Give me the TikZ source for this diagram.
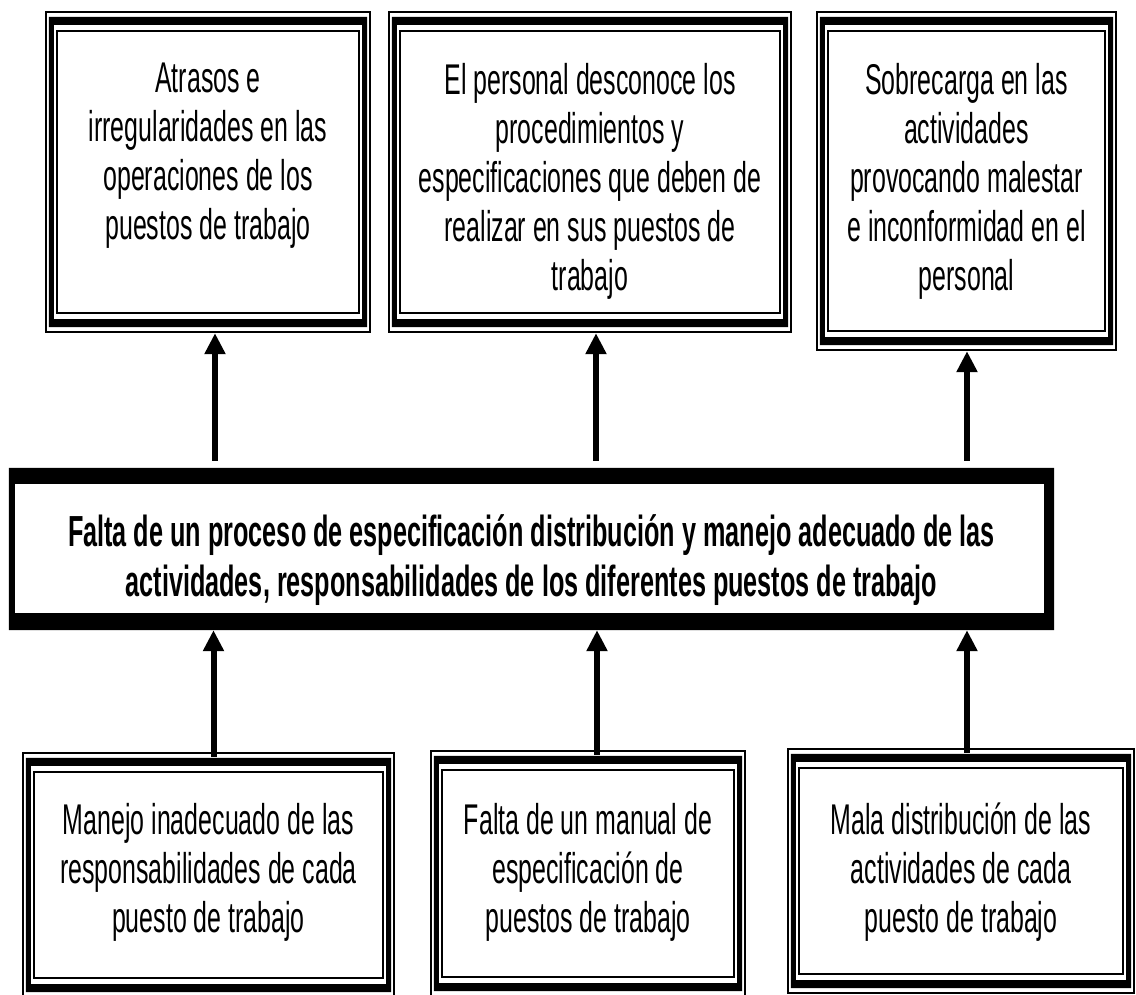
\documentclass[tikz,border=0pt]{standalone}
\usepackage{fontspec}
\setmainfont{Liberation Sans}[FakeStretch=0.58]
\usepackage{tikz}
\usetikzlibrary{arrows.meta, positioning}

\newcommand{\triframe}[1]{%
  \draw[line width=2pt] ([shift={(1,-1)}]#1.north west) rectangle ([shift={(-1,1)}]#1.south east);
  \fill[even odd rule] ([shift={(4,-6)}]#1.north west) rectangle ([shift={(-4,6)}]#1.south east)
    ([shift={(9,-14)}]#1.north west) rectangle ([shift={(-9,14)}]#1.south east);
  \draw[line width=2pt] ([shift={(12,-20)}]#1.north west) rectangle ([shift={(-12,20)}]#1.south east);
}

\begin{document}
\begin{tikzpicture}[x=1pt, y=1pt,
  frame/.style args={#1x#2}{rectangle, inner sep=0pt, minimum width=#1pt, minimum height=#2pt},
  txt/.style={font=\fontsize{43}{49}\selectfont, align=center, inner sep=0pt, anchor=north},
  arr/.style={line width=6pt, -{Triangle[length=21pt, width=20pt]}}]
  \useasboundingbox (0,0) rectangle (1136,994);

  % efectos
  \node[frame=326x322] (atrasos) at (208,822) {};
  \node[frame=404x322] (desconoce) at (590,822) {};
  \node[frame=301x340] (sobrecarga) at (966.5,813) {};
  \triframe{atrasos}
  \triframe{desconoce}
  \triframe{sobrecarga}
  \node[txt] (atrasosT) at ([yshift=-52]atrasos.north) {Atrasos e\\irregularidades en las\\operaciones de los\\puestos de trabajo};
  \node[txt] (desconoceT) at ([yshift=-52]desconoce.north) {El personal desconoce los\\procedimientos y\\especificaciones que deben de\\realizar en sus puestos de\\trabajo};
  \node[txt] (sobrecargaT) at ([yshift=-52]sobrecarga.north) {Sobrecarga en las\\actividades\\provocando malestar\\e inconformidad en el\\personal};

  % problema central
  \node[frame=1045x162] (falta) at (531.5,445) {};
  \fill[even odd rule] (falta.north west) rectangle (falta.south east)
    ([shift={(6,-16)}]falta.north west) rectangle ([shift={(-10,17)}]falta.south east);
  \node[txt, font=\fontsize{43.5}{50}\selectfont\bfseries] (faltaT) at ([yshift=-47]falta.north)
    {Falta de un proceso de especificación distribución y manejo adecuado de las\\actividades, responsabilidades de los diferentes puestos de trabajo};

  % causas
  \node[frame=373x246] (manejo) at (208.5,119) {};
  \node[frame=316x247] (manual) at (588,120.5) {};
  \node[frame=348x246] (mala) at (961,123) {};
  \triframe{manejo}
  \triframe{manual}
  \triframe{mala}
  \node[txt] (manejoT) at ([yshift=-51]manejo.north) {Manejo inadecuado de las\\responsabilidades de cada\\puesto de trabajo};
  \node[txt] (manualT) at ([yshift=-53]manual.north) {Falta de un manual de\\especificación de\\puestos de trabajo};
  \node[txt] (malaT) at ([yshift=-55]mala.north) {Mala distribución de las\\actividades de cada\\puesto de trabajo};

  % flechas
  \coordinate (e1) at ([xshift=7]atrasos.south);
  \coordinate (e2) at ([xshift=6]desconoce.south);
  \coordinate (e3) at ([xshift=0.5]sobrecarga.south);
  \coordinate (c1) at ([xshift=5,yshift=-5]manejo.north);
  \coordinate (c2) at ([xshift=9,yshift=-5]manual.north);
  \coordinate (c3) at ([xshift=6,yshift=-5]mala.north);
  \draw[arr, shorten <=7pt] (falta.north -| e1) -- (e1);
  \draw[arr, shorten <=7pt] (falta.north -| e2) -- (e2);
  \draw[arr, shorten <=7pt] (falta.north -| e3) -- (e3);
  \draw[arr] (c1) -- (c1 |- falta.south);
  \draw[arr] (c2) -- (c2 |- falta.south);
  \draw[arr] (c3) -- (c3 |- falta.south);
\end{tikzpicture}
\end{document}
